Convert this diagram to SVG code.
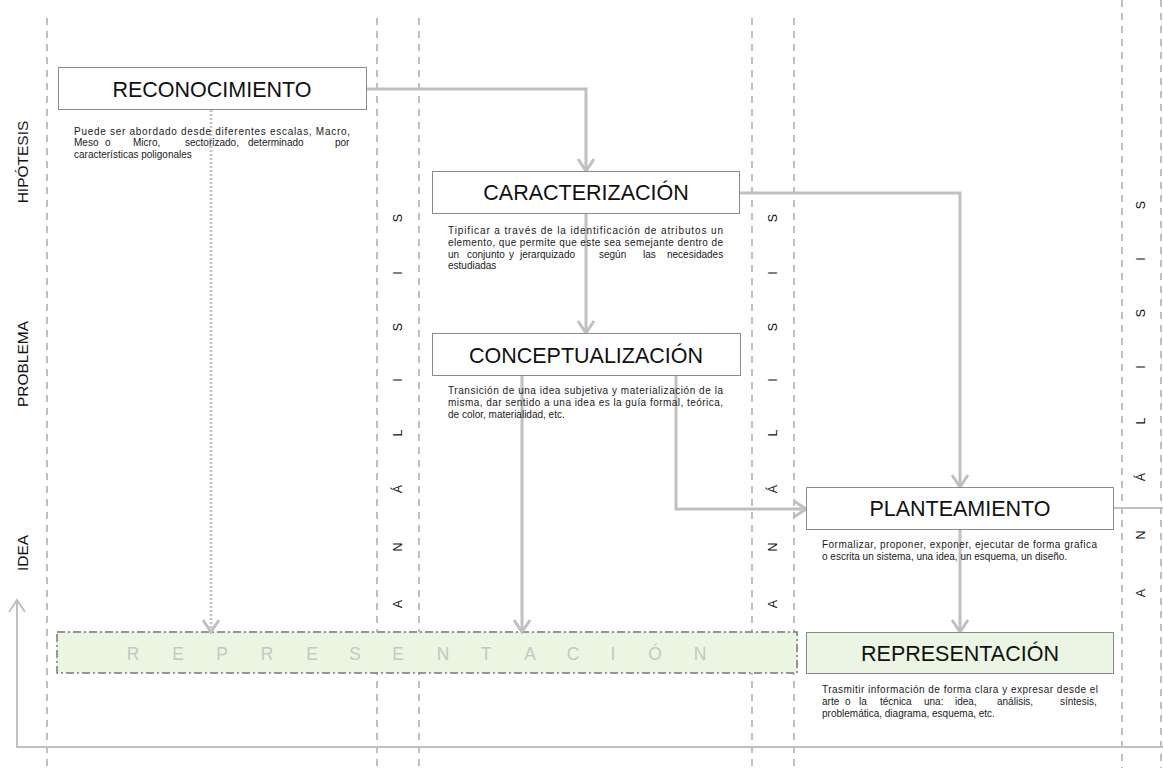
<svg xmlns="http://www.w3.org/2000/svg" width="1163" height="768" viewBox="0 0 1163 768">
<style>
.col{stroke:#ababab;stroke-width:1.5;stroke-dasharray:7 6;fill:none}
.box{fill:#fff;stroke:#8a8a8a;stroke-width:1}
.title{font-family:"Liberation Sans",Arial,sans-serif;font-size:21.5px;fill:#111;text-anchor:middle}
.desc{font-family:"Liberation Sans",Arial,sans-serif;font-size:10px;fill:#1a1a1a}
.side{font-family:"Liberation Sans",Arial,sans-serif;font-size:15.5px;fill:#111;text-anchor:middle}
.an{font-family:"Liberation Sans",Arial,sans-serif;font-size:12.5px;fill:#111;text-anchor:middle;dominant-baseline:central}
.con{stroke:#c0c0c0;stroke-width:3;fill:none}
.thin{stroke:#c0c0c0;stroke-width:2;fill:none}
.band{font-family:"Liberation Sans",Arial,sans-serif;font-size:17.5px;fill:#c6c6c6;text-anchor:middle}
</style>
<defs>
<marker id="ah" markerUnits="userSpaceOnUse" viewBox="0 0 16 20" refX="14" refY="10" markerWidth="16" markerHeight="20" orient="auto">
<path d="M2,2 L14,10 L2,18" fill="none" stroke="#c0c0c0" stroke-width="3"/>
</marker>
<marker id="ah2" markerUnits="userSpaceOnUse" viewBox="0 0 16 20" refX="14" refY="10" markerWidth="16" markerHeight="20" orient="auto">
<path d="M2,2 L14,10 L2,18" fill="none" stroke="#c0c0c0" stroke-width="2"/>
</marker>
</defs>
<rect width="1163" height="768" fill="#fff"/>

<g id="columns">
<line class="col" x1="47" y1="18" x2="47" y2="768"/>
<line class="col" x1="377" y1="18" x2="377" y2="768"/>
<line class="col" x1="419" y1="18" x2="419" y2="768"/>
<line class="col" x1="752" y1="18" x2="752" y2="768"/>
<line class="col" x1="794" y1="18" x2="794" y2="768"/>
<line class="col" x1="1122" y1="0" x2="1122" y2="768"/>
<line class="col" x1="1161" y1="0" x2="1161" y2="768"/>
</g>

<g id="side-labels">
<text class="side" transform="translate(28,162) rotate(-90)">HIPÓTESIS</text>
<text class="side" transform="translate(28,364) rotate(-90)">PROBLEMA</text>
<text class="side" transform="translate(28,553) rotate(-90)">IDEA</text>
</g>

<g id="analisis-1">
<text class="an" transform="translate(398,218) rotate(-90)">S</text>
<text class="an" transform="translate(398,273) rotate(-90)">I</text>
<text class="an" transform="translate(398,327) rotate(-90)">S</text>
<text class="an" transform="translate(398,380) rotate(-90)">I</text>
<text class="an" transform="translate(398,433) rotate(-90)">L</text>
<text class="an" transform="translate(398,489) rotate(-90)">Á</text>
<text class="an" transform="translate(398,547) rotate(-90)">N</text>
<text class="an" transform="translate(398,604) rotate(-90)">A</text>
</g>
<g id="analisis-2">
<text class="an" transform="translate(773,218) rotate(-90)">S</text>
<text class="an" transform="translate(773,273) rotate(-90)">I</text>
<text class="an" transform="translate(773,327) rotate(-90)">S</text>
<text class="an" transform="translate(773,380) rotate(-90)">I</text>
<text class="an" transform="translate(773,433) rotate(-90)">L</text>
<text class="an" transform="translate(773,489) rotate(-90)">Á</text>
<text class="an" transform="translate(773,547) rotate(-90)">N</text>
<text class="an" transform="translate(773,604) rotate(-90)">A</text>
</g>
<g id="analisis-3">
<text class="an" transform="translate(1141,205) rotate(-90)">S</text>
<text class="an" transform="translate(1141,259) rotate(-90)">I</text>
<text class="an" transform="translate(1141,313) rotate(-90)">S</text>
<text class="an" transform="translate(1141,367) rotate(-90)">I</text>
<text class="an" transform="translate(1141,421) rotate(-90)">L</text>
<text class="an" transform="translate(1141,477) rotate(-90)">Á</text>
<text class="an" transform="translate(1141,535) rotate(-90)">N</text>
<text class="an" transform="translate(1141,593) rotate(-90)">A</text>
</g>

<g id="band-representacion">
<rect x="57" y="632" width="740" height="41" fill="#eaf5e2" stroke="#777" stroke-width="1.5" stroke-dasharray="8 3 2 3"/>
<text class="band" y="660"><tspan x="133">R</tspan><tspan x="178">E</tspan><tspan x="222">P</tspan><tspan x="267">R</tspan><tspan x="312">E</tspan><tspan x="355">S</tspan><tspan x="398">E</tspan><tspan x="443">N</tspan><tspan x="486">T</tspan><tspan x="530">A</tspan><tspan x="573">C</tspan><tspan x="613">I</tspan><tspan x="655">Ó</tspan><tspan x="700">N</tspan></text>
</g>

<g id="connectors">
<path class="con" d="M366,89 H586 V171" marker-end="url(#ah)"/>
<path class="con" d="M739,193 H960 V487" marker-end="url(#ah)"/>
<path class="con" d="M586,214 V333" marker-end="url(#ah)"/>
<path class="con" d="M522,375 V632" marker-end="url(#ah)"/>
<path class="con" d="M676,375 V509 H806" marker-end="url(#ah)"/>
<path class="con" d="M960,529 V632" marker-end="url(#ah)"/>
<path d="M211,110 V632" stroke="#c8c8c8" stroke-width="3" stroke-dasharray="2 2" fill="none" marker-end="url(#ah)"/>
<path class="thin" d="M1114,508 H1163"/>
<path class="thin" d="M1163,747 H17 V600" marker-end="url(#ah2)"/>
</g>

<g id="reconocimiento">
<rect class="box" x="58.5" y="67.5" width="308" height="42"/>
<text class="title" x="212" y="97">RECONOCIMIENTO</text>
<text class="desc" x="74" y="134.5" textLength="276" lengthAdjust="spacing">Puede ser abordado desde diferentes escalas, Macro,</text>
<text class="desc" y="146"><tspan x="74">Meso</tspan><tspan x="105">o</tspan><tspan x="133">Micro,</tspan><tspan x="185">sectorizado,</tspan><tspan x="248">determinado</tspan><tspan x="335">por</tspan></text>
<text class="desc" x="74" y="157.5">características poligonales</text>
</g>

<g id="caracterizacion">
<rect class="box" x="432.5" y="171.5" width="307" height="42"/>
<text class="title" x="586" y="200">CARACTERIZACIÓN</text>
<text class="desc" x="448" y="234" textLength="275" lengthAdjust="spacing">Tipificar a través de la identificación de atributos un</text>
<text class="desc" x="448" y="245.8" textLength="275" lengthAdjust="spacing">elemento, que permite que este sea semejante dentro de</text>
<text class="desc" y="257.6"><tspan x="448">un</tspan><tspan x="467">conjunto</tspan><tspan x="509">y</tspan><tspan x="520">jerarquizado</tspan><tspan x="599">según</tspan><tspan x="643">las</tspan><tspan x="667">necesidades</tspan></text>
<text class="desc" x="448" y="269.4">estudiadas</text>
</g>

<g id="conceptualizacion">
<rect class="box" x="432.5" y="333.5" width="308" height="42"/>
<text class="title" x="586" y="363">CONCEPTUALIZACIÓN</text>
<text class="desc" x="448" y="394" textLength="275" lengthAdjust="spacing">Transición de una idea subjetiva y materialización de la</text>
<text class="desc" x="448" y="406" textLength="275" lengthAdjust="spacing">misma, dar sentido a una idea es la guía formal, teórica,</text>
<text class="desc" x="448" y="418">de color, materialidad, etc.</text>
</g>

<g id="planteamiento">
<rect class="box" x="806.5" y="487.5" width="307" height="42"/>
<text class="title" x="960" y="516">PLANTEAMIENTO</text>
<text class="desc" x="822" y="548" textLength="275" lengthAdjust="spacing">Formalizar, proponer, exponer, ejecutar de forma grafica</text>
<text class="desc" x="822" y="560">o escrita un sistema,  una idea, un esquema, un diseño.</text>
</g>

<g id="representacion">
<rect x="806.5" y="632.5" width="307" height="41" fill="#ebf5e3" stroke="#8a8a8a" stroke-width="1"/>
<text class="title" x="960" y="661">REPRESENTACIÓN</text>
<text class="desc" x="822" y="693" textLength="276" lengthAdjust="spacing">Trasmitir información de forma clara y expresar desde el</text>
<text class="desc" y="705"><tspan x="822">arte</tspan><tspan x="845">o</tspan><tspan x="859">la</tspan><tspan x="880">técnica</tspan><tspan x="924">una:</tspan><tspan x="955">idea,</tspan><tspan x="997">análisis,</tspan><tspan x="1060">síntesis,</tspan></text>
<text class="desc" x="822" y="716.5">problemática, diagrama, esquema, etc.</text>
</g>
</svg>
